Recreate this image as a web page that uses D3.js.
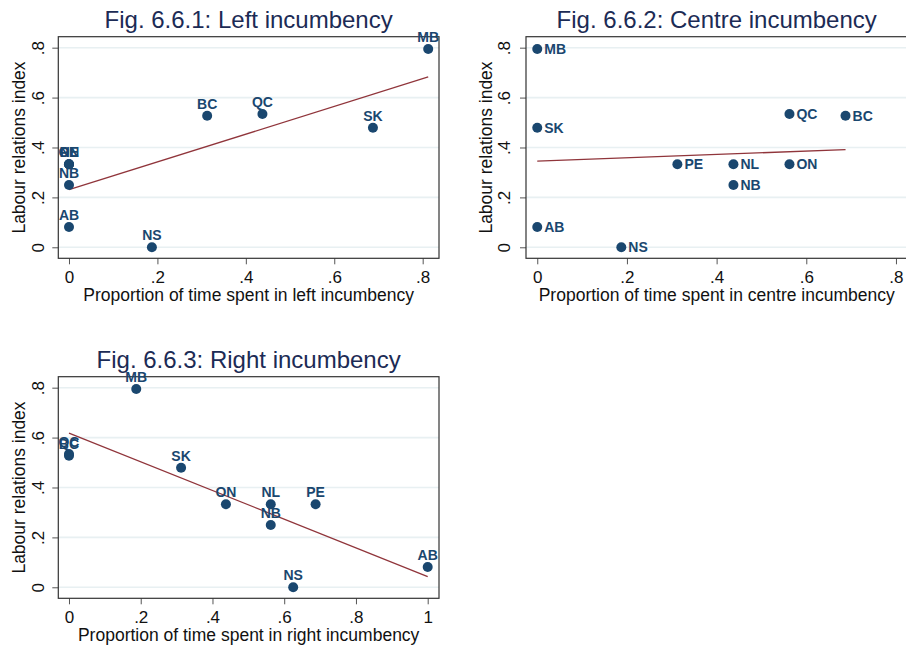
<!DOCTYPE html>
<html><head><meta charset="utf-8">
<script src="https://cdn.jsdelivr.net/npm/d3@7"></script>
<style>body{margin:0;background:#fff}svg{display:block}</style>
</head><body>
<svg id="c" width="906" height="650"></svg>
<script>
const provinces = ["AB","BC","MB","NB","NL","NS","ON","PE","QC","SK"];
const labourIndex = [0.081,0.527,0.795,0.25,0.333,0,0.333,0.333,0.534,0.479];
const leftShare = [0,0.3125,0.8125,0,0,0.1875,0,0,0.4375,0.6875];
const centreShare = [0,0.6875,0,0.4375,0.4375,0.1875,0.5625,0.3125,0.5625,0];
const rightShare = [1,0,0.1875,0.5625,0.5625,0.625,0.4375,0.6875,0,0.3125];
const yTicks = [0,0.2,0.4,0.6,0.8];
const xTicksLeft = [0,0.2,0.4,0.6,0.8];
const xTicksCentre = [0,0.2,0.4,0.6,0.8];
const xTicksRight = [0,0.2,0.4,0.6,0.8,1];
const titles = ["Fig. 6.6.1: Left incumbency","Fig. 6.6.2: Centre incumbency","Fig. 6.6.3: Right incumbency"];
const xTitles = ["Proportion of time spent in left incumbency","Proportion of time spent in centre incumbency","Proportion of time spent in right incumbency"];
const yTitle = "Labour relations index";

const FONT = "'Liberation Sans', Arial, Helvetica, sans-serif";
const NAVY = "#1a476f", MAROON = "#90353b", GRID = "#e8f0f2", TITLE = "#1c2b55";
const svg = d3.select("#c");
const fmt = d => d === 0 ? "0" : (d === 1 ? "1" : d3.format(".1f")(d).replace(/^0/, ""));

function panel(o) {
  const {left, right, top, bottom, xs, xDomain, xTicks, title, xTitle, labelPos, yTitleX, yTickX} = o;
  const x = d3.scaleLinear().domain(xDomain).range([left, right]);
  const y = d3.scaleLinear().domain([-0.0441, 0.844]).range([bottom, top]);
  const g = svg.append("g");
  g.selectAll(".grid").data(yTicks).join("line")
    .attr("x1", left).attr("x2", right).attr("y1", d => y(d)).attr("y2", d => y(d))
    .attr("stroke", GRID).attr("stroke-width", 1.6);
  const yAxis = d3.axisLeft(y).tickValues(yTicks).tickFormat(fmt).tickSize(6).tickPadding(8);
  const ya = g.append("g").attr("transform", `translate(${left},0)`).call(yAxis);
  ya.select(".domain").remove();
  ya.selectAll(".tick line").attr("stroke", "#555").attr("stroke-width", 1);
  ya.selectAll(".tick text").attr("font-family", FONT).attr("font-size", 17).attr("fill", "#111")
    .attr("text-anchor", "middle").attr("dy", null)
    .attr("x", 0).attr("y", 0)
    .attr("transform", `translate(${yTickX - left},0) rotate(-90)`);
  const xAxis = d3.axisBottom(x).tickValues(xTicks).tickFormat(fmt).tickSize(6).tickPadding(8);
  const xa = g.append("g").attr("transform", `translate(0,${bottom})`).call(xAxis);
  xa.select(".domain").remove();
  xa.selectAll(".tick line").attr("stroke", "#555").attr("stroke-width", 1);
  xa.selectAll(".tick text").attr("font-family", FONT).attr("font-size", 17).attr("fill", "#111")
    .attr("dy", null).attr("y", 24.5);
  g.append("rect").attr("x", left).attr("y", top).attr("width", right - left).attr("height", bottom - top)
    .attr("fill", "none").attr("stroke", "#333").attr("stroke-width", 1.2);
  // OLS fit line
  const mx = d3.mean(xs), my = d3.mean(labourIndex);
  let sxy = 0, sxx = 0;
  xs.forEach((v, i) => { sxy += (v - mx) * (labourIndex[i] - my); sxx += (v - mx) * (v - mx); });
  const b = sxy / sxx, a = my - b * mx;
  g.append("path").attr("d", d3.line().x(d => x(d)).y(d => y(a + b * d))(d3.extent(xs)))
    .attr("stroke", MAROON).attr("stroke-width", 1.3).attr("fill", "none");
  const data = provinces.map((p, i) => ({p, x: xs[i], y: labourIndex[i]}));
  g.selectAll(".pt").data(data).join("circle")
    .attr("cx", d => x(d.x)).attr("cy", d => y(d.y)).attr("r", 5).attr("fill", NAVY);
  g.selectAll(".lb").data(data).join("text")
    .attr("x", d => labelPos === "top" ? x(d.x) : x(d.x) + 7)
    .attr("y", d => labelPos === "top" ? y(d.y) - 7 : y(d.y) + 5)
    .attr("text-anchor", labelPos === "top" ? "middle" : "start")
    .attr("font-family", FONT).attr("font-weight", "bold").attr("font-size", 14)
    .attr("fill", NAVY).text(d => d.p);
  g.append("text").attr("x", (left + right) / 2).attr("y", top - 9).attr("text-anchor", "middle")
    .attr("font-family", FONT).attr("font-size", 24).attr("fill", TITLE).text(title);
  g.append("text").attr("x", (left + right) / 2).attr("y", bottom + 43).attr("text-anchor", "middle")
    .attr("font-family", FONT).attr("font-size", 17.5).attr("fill", "#111").text(xTitle);
  g.append("text").attr("transform", `translate(${yTitleX},${(top + bottom) / 2}) rotate(-90)`)
    .attr("text-anchor", "middle").attr("font-family", FONT).attr("font-size", 17.5).attr("fill", "#111")
    .text(yTitle);
}

panel({left: 58.3, right: 439, top: 36.7, bottom: 258.3, xs: leftShare, xDomain: [-0.0242, 0.8369],
  xTicks: xTicksLeft, title: titles[0], xTitle: xTitles[0], labelPos: "top", yTitleX: 24.5, yTickX: 43.5});
panel({left: 526, right: 907.4, top: 36.7, bottom: 258.3, xs: centreShare, xDomain: [-0.0251, 0.8255],
  xTicks: xTicksCentre, title: titles[1], xTitle: xTitles[1], labelPos: "right", yTitleX: 492, yTickX: 510});
panel({left: 58.3, right: 439, top: 376.7, bottom: 598.3, xs: rightShare, xDomain: [-0.0298, 1.0315],
  xTicks: xTicksRight, title: titles[2], xTitle: xTitles[2], labelPos: "top", yTitleX: 24.5, yTickX: 43.5});
</script>
</body></html>
